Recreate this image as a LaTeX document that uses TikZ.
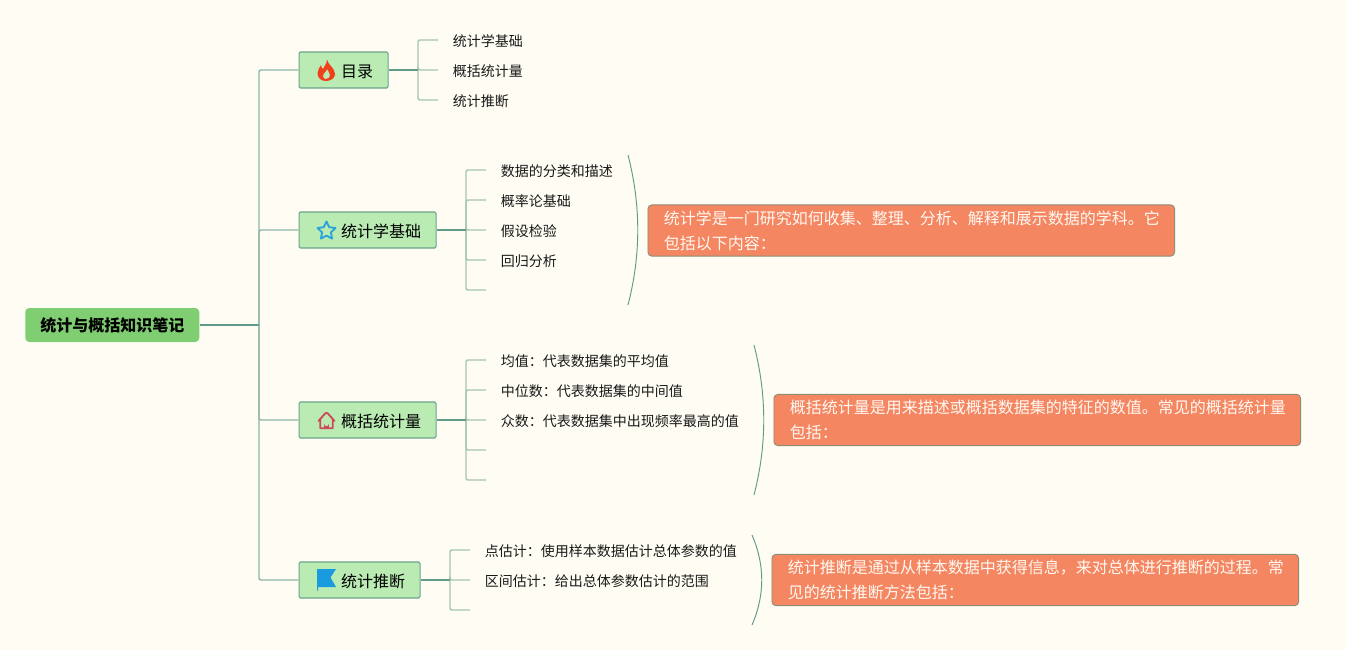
\documentclass[tikz,border=0pt]{standalone}
\usepackage{fontspec}
\setmainfont{Noto Sans CJK SC}
\definecolor{bgc}{HTML}{FFFCF3}
\definecolor{rootfill}{HTML}{80CE72}
\definecolor{mainfill}{HTML}{B9EBB3}
\definecolor{mainedge}{HTML}{6CA48E}
\definecolor{calloutfill}{HTML}{F58662}
\definecolor{calloutedge}{HTML}{8C8F75}
\definecolor{darkline}{HTML}{5F9A8A}
\definecolor{midline}{HTML}{8DB8A9}
\definecolor{lightline}{HTML}{A5C6B4}
\definecolor{flamered}{HTML}{F0401A}
\definecolor{staricon}{HTML}{2CA4D8}
\definecolor{houseicon}{HTML}{CF4A5C}
\definecolor{flagicon}{HTML}{1A9BE0}
\tikzset{
  x=0.75pt,y=-0.75pt,
  rootbox/.style={fill=rootfill,rounded corners=3pt,anchor=west,minimum width=130.5pt,minimum height=25.5pt,inner sep=0pt,text height=11.5pt,text depth=1.5pt,font=\fontsize{12pt}{14pt}\selectfont\bfseries,text=black},
  mainbox/.style={draw=mainedge,line width=0.8pt,fill=mainfill,rounded corners=1pt,anchor=west,minimum height=27pt,inner sep=0pt,text height=12pt,text depth=1.4pt,font=\fontsize{12pt}{14pt}\selectfont,text=black},
  leaf/.style={anchor=west,inner ysep=1pt,inner xsep=0pt,text height=11pt,text depth=0.8pt,font=\fontsize{10.5pt}{12pt}\selectfont,text=black!90},
  callout/.style={draw=calloutedge,line width=0.7pt,fill=calloutfill,rounded corners=3pt,anchor=west,inner sep=0pt,text width=395pt,minimum height=38.5pt,align=left,font=\fontsize{12pt}{18.75pt}\selectfont,text=white!95!orange},
  trunk/.style={draw=darkline,line width=1.4pt},
  rootbranch/.style={draw=midline,line width=1.1pt,rounded corners=1.5pt},
  twig/.style={draw=lightline,line width=1.1pt,rounded corners=1.5pt},
  brace/.style={draw=darkline,line width=0.7pt},
}
\newcommand{\leafgap}{\hspace*{10.9pt}}
\begin{document}
\begin{tikzpicture}
\path[fill=bgc,use as bounding box] (0,0) rectangle (1346,650);

% root and main topics
\node[rootbox] (root) at (25,325) {统计与概括知识笔记};
\node[mainbox,minimum width=66.75pt] (m1) at (298.5,70) {\hspace*{31.5pt}目录\hspace*{11.25pt}};
\node[mainbox,minimum width=102.75pt] (m2) at (298.5,230) {\hspace*{31.5pt}统计学基础\hspace*{11.25pt}};
\node[mainbox,minimum width=102.75pt] (m3) at (298.5,420) {\hspace*{31.5pt}概括统计量\hspace*{11.25pt}};
\node[mainbox,minimum width=90.75pt] (m4) at (298.5,580) {\hspace*{31.5pt}统计推断\hspace*{11.25pt}};

% leaves
\node[leaf] (a1) at (438,40) {\leafgap 统计学基础};
\node[leaf] (a2) at (438,70) {\leafgap 概括统计量};
\node[leaf] (a3) at (438,100) {\leafgap 统计推断};

\node[leaf] (b1) at (486,170) {\leafgap 数据的分类和描述};
\node[leaf] (b2) at (486,200) {\leafgap 概率论基础};
\node[leaf] (b3) at (486,230) {\leafgap 假设检验};
\node[leaf] (b4) at (486,260) {\leafgap 回归分析};
\coordinate (b5) at (486,290);

\node[leaf] (c1) at (486,360) {\leafgap 均值：代表数据集的平均值};
\node[leaf] (c2) at (486,390) {\leafgap 中位数：代表数据集的中间值};
\node[leaf] (c3) at (486,420) {\leafgap 众数：代表数据集中出现频率最高的值};
\coordinate (c4) at (486,450);
\coordinate (c5) at (486,480);

\node[leaf] (d1) at (470,550) {\leafgap 点估计：使用样本数据估计总体参数的值};
\node[leaf] (d2) at (470,580) {\leafgap 区间估计：给出总体参数估计的范围};
\coordinate (d3) at (470,610);

% hubs
\coordinate (h0) at (259,325);
\coordinate (h1) at (418,70);
\coordinate (h2) at (466,230);
\coordinate (h3) at (466,420);
\coordinate (h4) at (450,580);

% root branches
\draw[rootbranch] (h0) |- (m1.west);
\draw[rootbranch] (h0) |- (m2.west);
\draw[rootbranch] (h0) |- (m3.west);
\draw[rootbranch] (h0) |- (m4.west);
\draw[trunk] (root.east) -- (h0);

% twigs
\foreach \l in {a1,a2,a3} \draw[twig] (h1) |- (\l.west);
\foreach \l in {b1,b2,b3,b4} \draw[twig] (h2) |- (\l.west);
\draw[twig] (h2) |- (b5);
\foreach \l in {c1,c2,c3} \draw[twig] (h3) |- (\l.west);
\draw[twig] (h3) |- (c4);
\draw[twig] (h3) |- (c5);
\foreach \l in {d1,d2} \draw[twig] (h4) |- (\l.west);
\draw[twig] (h4) |- (d3);
\draw[trunk] (m1.east) -- (h1);
\draw[trunk] (m2.east) -- (h2);
\draw[trunk] (m3.east) -- (h3);
\draw[trunk] (m4.east) -- (h4);

% callouts
\node[callout] (n1) at (647.5,230.5) {\hspace*{12pt}统计学是一门研究如何收集、整理、分析、解释和展示数据的学科。它\\\hspace*{12pt}包括以下内容：};
\node[callout] (n2) at (773.5,420) {\hspace*{12pt}概括统计量是用来描述或概括数据集的特征的数值。常见的概括统计量\\\hspace*{12pt}包括：};
\node[callout] (n3) at (771.5,580) {\hspace*{12pt}统计推断是通过从样本数据中获得信息，来对总体进行推断的过程。常\\\hspace*{12pt}见的统计推断方法包括：};

% summary brackets
\coordinate (s1a) at (628,155); \coordinate (s1b) at (628,305);
\coordinate (s2a) at (754,345); \coordinate (s2b) at (754,495);
\coordinate (s3a) at (752,535); \coordinate (s3b) at (752,625);
\draw[brace] (s1a) .. controls (641,205) and (641,255) .. (s1b);
\draw[brace] (s2a) .. controls (767,395) and (767,445) .. (s2b);
\draw[brace] (s3a) .. controls (765,565) and (765,595) .. (s3b);

% icons
% flame
\fill[flamered,even odd rule] (327,59.5) .. controls (328,65) and (335,68) .. (335,74)
  .. controls (335,78) and (331,81) .. (326,81)
  .. controls (321,81) and (317.5,78) .. (317.5,73)
  .. controls (317.5,70) and (320,67) .. (321,65)
  .. controls (321,67) and (322,68) .. (323,69)
  .. controls (324,66) and (327,64) .. (327,59.5) -- cycle
  (327,69) .. controls (327,71) and (323,73) .. (323,76)
  .. controls (323,78) and (324,79) .. (326,79)
  .. controls (329,79) and (330,77) .. (330,75)
  .. controls (330,73) and (328,71) .. (327,69) -- cycle;
% star
\draw[staricon,line width=1.4pt,line join=round] (326.5,221.5) -- (329.2,227.2) -- (335.5,228) -- (330.9,232.4) -- (332.1,238.6) -- (326.5,235.6) -- (320.9,238.6) -- (322.1,232.4) -- (317.5,228) -- (323.8,227.2) -- cycle;
% house
\draw[houseicon,line width=1.4pt,line join=round,line cap=round] (318.5,421) -- (325,413.6) .. controls (326,412.6) and (327,412.6) .. (328,413.6) -- (334.5,421) (320.3,419.5) -- (320.3,428.3) -- (332.7,428.3) -- (332.7,419.5);
\fill[houseicon] (324.2,428.5) -- (324.2,424) arc[start angle=180,end angle=0,radius=2.3] -- (328.8,428.5) -- cycle;
% flag
\fill[flagicon] (317,569) -- (336,569) -- (330.5,577.5) -- (336,587) -- (318,587) -- (318,590.5) -- (317,590.5) -- cycle;
\end{tikzpicture}
\end{document}
